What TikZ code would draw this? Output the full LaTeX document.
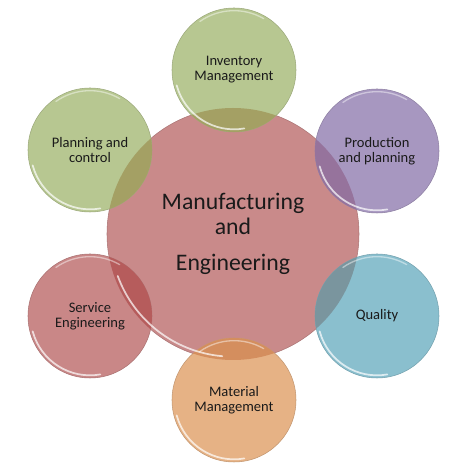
\documentclass[tikz,border=0pt]{standalone}
\usepackage{fontspec}
\setmainfont{Carlito}
\usepackage{tikz}

\definecolor{cenred}{HTML}{C98A8A}
\definecolor{leafgreen}{HTML}{B7C791}
\definecolor{lilac}{HTML}{A797C0}
\definecolor{skyblue}{HTML}{8ABFCE}
\definecolor{peach}{HTML}{E6B285}
\definecolor{rosered}{HTML}{C98787}
\definecolor{olivemix}{HTML}{A4A064}
\definecolor{mauvemix}{HTML}{96739C}
\definecolor{tealmix}{HTML}{7A959E}
\definecolor{ambermix}{HTML}{D48E5E}
\definecolor{redmix}{HTML}{B65C5C}
\definecolor{inktext}{HTML}{1A1A1A}

\begin{document}
\begin{tikzpicture}[line cap=round,line join=round,x=0.75pt,y=-0.75pt,
  bigball/.style={circle,minimum size=189pt,inner sep=0pt,fill=cenred,draw=cenred!85!black,line width=0.4pt,
    text=inktext,align=center,font=\fontsize{17.8}{19}\selectfont},
  ball/.style={circle,minimum size=93pt,inner sep=0pt,draw=#1!85!black,line width=0.4pt,fill=#1,
    text=inktext,align=center,font=\fontsize{10.9}{11.3}\selectfont},
  rim/.style={white,line width=1.3pt,opacity=0.7}]
\useasboundingbox (0,0) rectangle (469,466);
% centre circle
\node[bigball] (cen) at (233,234) {Manufacturing\\and\\[8pt]Engineering};
% satellites
\node[ball=leafgreen] (inv) at (234,70) {Inventory\\Management};
\node[ball=lilac] (prod) at (377,151) {Production\\and planning};
\node[ball=skyblue] (qual) at (377,316) {Quality};
\node[ball=peach] (mat) at (234,400) {Material\\Management};
\node[ball=rosered] (serv) at (90,316) {Service\\Engineering};
\node[ball=leafgreen] (plan) at (90,150) {Planning and\\control};
% overlaps with the centre
\foreach \n/\c in {inv/olivemix,prod/mauvemix,qual/tealmix,mat/ambermix,serv/redmix,plan/olivemix}
{
\begin{scope}
\clip (cen.center) circle (94.5pt);
\fill[\c] (\n.center) circle (46.5pt);
\end{scope}
}
% glossy rims
\draw[rim] (cen.center) ++(200:92pt) arc (200:265:92pt);
\foreach \n in {inv,prod,qual,mat,serv,plan}
{
\draw[rim] (\n.center) ++(195:44.5pt) arc (195:280:44.5pt);
\draw[rim,opacity=0.45,line width=1pt] (\n.center) ++(60:44.5pt) arc (60:125:44.5pt);
}
\end{tikzpicture}
\end{document}
